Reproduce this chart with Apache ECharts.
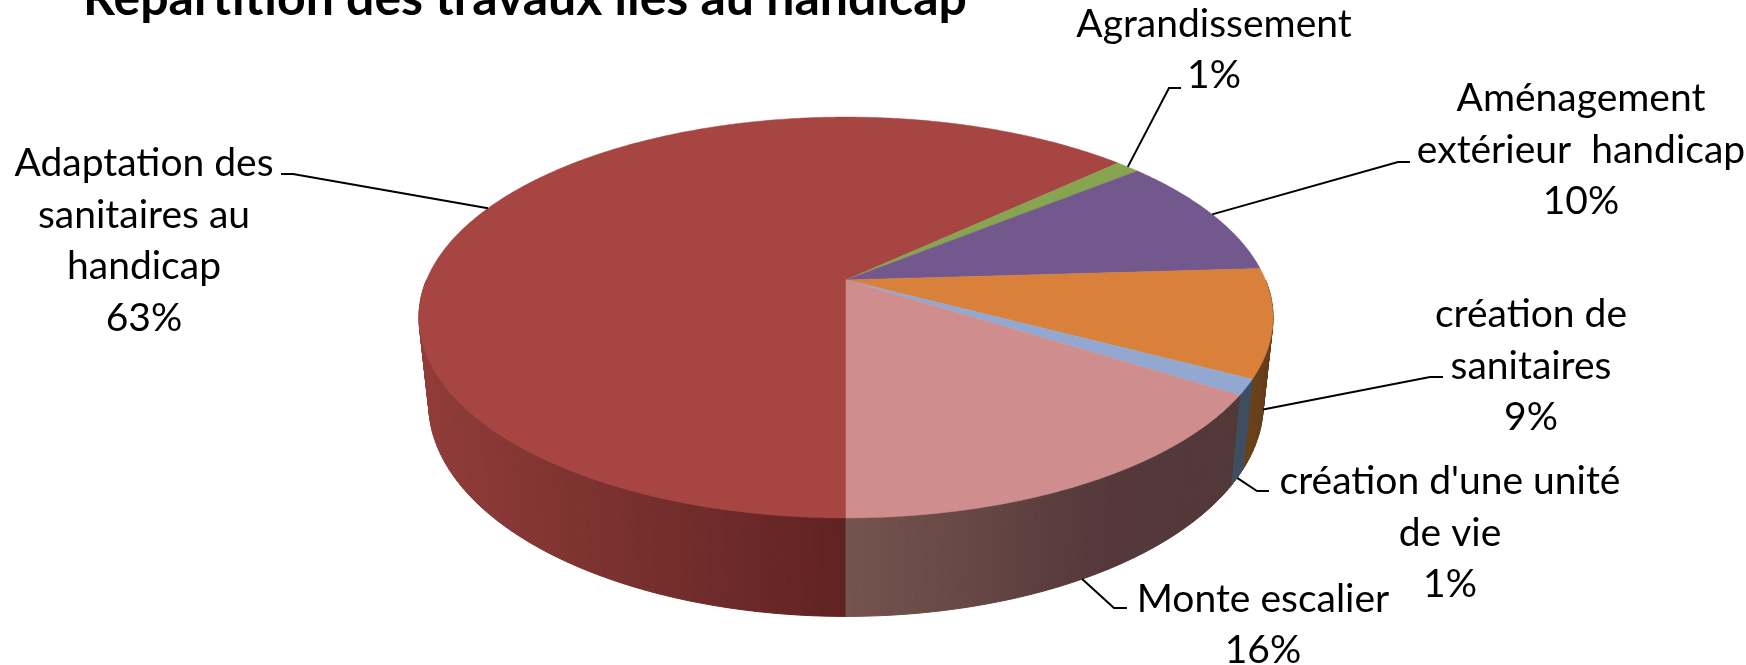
<!DOCTYPE html>
<html>
<head>
<meta charset="utf-8">
<title>Répartition des travaux liés au handicap</title>
<script src="https://cdn.jsdelivr.net/npm/echarts@6/dist/echarts.min.js"></script>
<style>
  html, body { margin: 0; padding: 0; background: #fff; }
  #main { width: 1746px; height: 665px; }
</style>
</head>
<body>
<div id="main"></div>
<script>
const chartTitle = 'Répartition des travaux liés au handicap';
const categories = [
  'Adaptation des\nsanitaires au\nhandicap',
  'Agrandissement',
  'Aménagement\nextérieur  handicap',
  'création de\nsanitaires',
  "création d'une unité\nde vie",
  'Monte escalier'
];
// arrondi dans les etiquettes
const shares = [63.05, 1.1, 9.9, 8.7, 1.25, 16.0];

const topColors = ['#A74543', '#87A54F', '#72588C', '#D9803B', '#93A8D1', '#CF8E8D'];
// couleur de la tranche, du debut vers la fin de la part
const sideColors = [
  ['#5F2322', '#903C39'],
  ['#55662F', '#55662F'],
  ['#453555', '#453555'],
  ['#5C3818', '#6A4019'],
  ['#3F4D60', '#3F4D60'],
  ['#513839', '#56393A', '#75544F']
];

// placement des etiquettes : centre du texte, coude du trait, fin du trait
const labelBoxes = [
  { x: 144, y: 241, elbow: [293, 174], end: [281, 174] },
  { x: 1214, y: 50, elbow: [1169, 88], end: [1181, 88] },
  { x: 1581, y: 150, elbow: [1398, 162], end: [1410, 162] },
  { x: 1531, y: 366, elbow: [1430, 377], end: [1443, 377] },
  { x: 1450, y: 533, elbow: [1257, 491], end: [1269, 491] },
  { x: 1263, y: 625, elbow: [1114, 608], end: [1127, 608] }
];

// perspective du disque
const pie = { cx: 846, cy: 280, rx: 419.5, ry: 193.4, k: 0.187, bottomX: 0.977, bottomY: 1.06, bottomMid: 404, midOffset: 37.5 };
const firstAngle = 180;
const total = shares.reduce((a, b) => a + b, 0);

const spans = [];
let cumul = firstAngle;
shares.forEach(function (v) {
  const next = cumul + v / total * 360;
  spans.push([cumul, next]);
  cumul = next;
});

function rim(deg, bottom) {
  const a = deg * Math.PI / 180;
  const x = Math.sin(a);
  const y = -Math.cos(a);
  const d = 1 - pie.k * y;
  const px = pie.rx * x / d;
  const py = pie.ry * y / d;
  if (bottom) return [pie.cx + px * pie.bottomX, pie.bottomMid + (py - pie.midOffset) * pie.bottomY];
  return [pie.cx + px, pie.cy + py];
}

function arcPoints(from, to) {
  const n = Math.max(2, Math.ceil(Math.abs(to - from) * 2));
  const pts = [];
  for (let i = 0; i <= n; i++) pts.push(rim(from + (to - from) * i / n, false));
  return pts;
}

function renderSide(params, api) {
  const i = api.value(0);
  const children = [];
  // seule la moitie avant se voit (les angles depassent 360 apres le tour)
  [[90, 270], [450, 630]].forEach(function (front) {
    const from = Math.max(spans[i][0], front[0]);
    const to = Math.min(spans[i][1], front[1]);
    for (let d = from; d < to; d += 1) {
      const e = Math.min(d + 1, to);
      const t = (((d + e) / 2) - spans[i][0]) / (spans[i][1] - spans[i][0]);
      let shade;
      if (i === 0) {
        // rouge : fonce vers le bas, clair a gauche
        const tt = Math.min(1, (pie.cx - rim((d + e) / 2, false)[0]) / 426);
        shade = echarts.color.lerp(tt, sideColors[i]);
      } else {
        shade = echarts.color.lerp(Math.min(1, Math.max(0, t)), sideColors[i]);
      }
      children.push({
        type: 'polygon',
        shape: { points: [rim(d, false), rim(e, false), rim(e, true), rim(d, true)] },
        style: { fill: shade, stroke: shade, lineWidth: 1 }
      });
    }
  });
  return { type: 'group', children: children };
}

function renderTop(params, api) {
  const i = api.value(0);
  const pts = [[pie.cx, pie.cy]].concat(arcPoints(spans[i][0], spans[i][1]));
  return {
    type: 'polygon',
    shape: { points: pts },
    style: { fill: topColors[i], stroke: topColors[i], lineWidth: 0.5 }
  };
}

function renderLabel(params, api) {
  const i = api.value(0);
  const box = labelBoxes[i];
  const m = (spans[i][0] + spans[i][1]) / 2 % 360;
  // les parts de devant prennent le trait sur le bord bas
  const front = m > 90 && m < 270;
  const start = rim(m, front);
  const pct = Math.round(api.value(1) / total * 100) + '%';
  return {
    type: 'group',
    children: [
      {
        type: 'polyline',
        shape: { points: [start, box.elbow, box.end] },
        style: { fill: null, stroke: '#000', lineWidth: 2 }
      },
      {
        type: 'text',
        style: {
          text: categories[i] + '\n' + pct,
          x: box.x,
          y: box.y,
          align: 'center',
          verticalAlign: 'middle',
          fill: '#000',
          font: '39px Lato',
          lineHeight: 51.5
        }
      }
    ]
  };
}

const rows = shares.map(function (v, i) { return [i, v]; });

const myChart = echarts.init(document.getElementById('main'), null, { renderer: 'canvas' });
myChart.setOption({
  animation: false,
  backgroundColor: '#fff',
  title: {
    text: chartTitle,
    left: 78,
    top: -31,
    textStyle: { fontFamily: 'Lato', fontWeight: 'bold', fontSize: 50, color: '#000' }
  },
  series: [
    { type: 'custom', coordinateSystem: 'none', renderItem: renderSide, data: rows, z: 1, silent: true },
    { type: 'custom', coordinateSystem: 'none', renderItem: renderTop, data: rows, z: 2, silent: true },
    { type: 'custom', coordinateSystem: 'none', renderItem: renderLabel, data: rows, z: 3, silent: true }
  ]
});
</script>
</body>
</html>
